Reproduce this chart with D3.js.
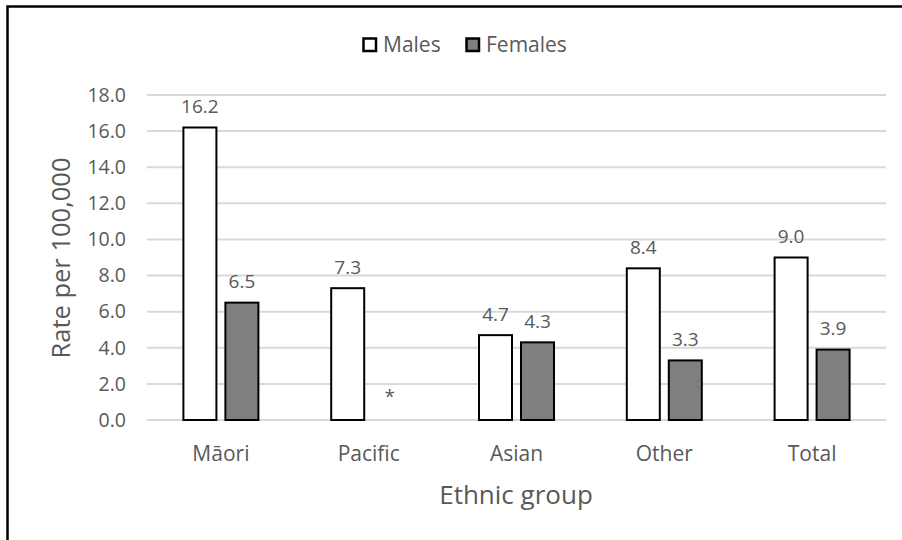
<!DOCTYPE html>
<html>
<head>
<meta charset="utf-8">
<script src="https://cdn.jsdelivr.net/npm/d3@7/dist/d3.min.js"></script>
<style>
  html, body { margin: 0; padding: 0; background: #fff; }
  svg { display: block; }
  text { font-family: "Open Sans", "Noto Sans", sans-serif; fill: #595959; }
</style>
</head>
<body>
<svg id="chart" width="902" height="540"></svg>
<script>
// Rates per 100,000 by ethnic group and sex
const categories = ["Māori", "Pacific", "Asian", "Other", "Total"];
const seriesNames = ["Males", "Females"];
const males = [16.2, 7.3, 4.7, 8.4, 9.0];
const females = [6.5, null, 4.3, 3.3, 3.9];   // Pacific females suppressed (*)
const yTicks = [0, 2, 4, 6, 8, 10, 12, 14, 16, 18];
const seriesFill = ["#ffffff", "#7f7f7f"];

const FONT = "'Open Sans', 'Noto Sans', sans-serif";
const svg = d3.select("#chart");
const W = 902, H = 540;

// outer frame (top and left edges)
svg.append("path")
  .attr("d", `M7.5,${H} L7.5,6.5 L${W},6.5`)
  .attr("fill", "none").attr("stroke", "#000").attr("stroke-width", 2.5);

const plot = { left: 147, right: 886, top: 95, bottom: 420 };

const y = d3.scaleLinear().domain([0, 18]).range([plot.bottom, plot.top]);
const x0 = d3.scaleBand().domain(categories).range([plot.left, plot.right]).padding(0);

// gridlines
svg.append("g").selectAll("line").data(yTicks).join("line")
  .attr("x1", plot.left).attr("x2", plot.right)
  .attr("y1", d => y(d)).attr("y2", d => y(d))
  .attr("stroke", "#d9d9d9").attr("stroke-width", 2);

// y axis labels
const yAxis = d3.axisLeft(y).tickValues(yTicks).tickFormat(d3.format(".1f")).tickSize(0).tickPadding(21);
const gy = svg.append("g").attr("transform", `translate(${plot.left},0)`).call(yAxis);
gy.select(".domain").remove();
gy.selectAll("text").attr("font-size", 19.5).attr("fill", "#595959").style("font-family", FONT);

// x axis labels
const xAxis = d3.axisBottom(x0).tickSize(0).tickPadding(26);
const gx = svg.append("g").attr("transform", `translate(0,${plot.bottom})`).call(xAxis);
gx.select(".domain").remove();
gx.selectAll("text").attr("font-size", 21).attr("fill", "#595959").style("font-family", FONT);

// bars
const groupHalf = 37.5;
const rows = categories.map((c, i) => ({ cat: c, vals: [males[i], females[i]] }));
const groups = svg.append("g").selectAll("g").data(rows).join("g");

groups.each(function (row) {
  const cx = x0(row.cat) + x0.bandwidth() / 2;
  const x1 = d3.scaleBand().domain(seriesNames)
    .range([cx - groupHalf, cx + groupHalf]).paddingInner(0.214).paddingOuter(0);
  const g = d3.select(this);
  const items = seriesNames.map((s, j) => ({ s, j, v: row.vals[j] }));

  g.selectAll("rect").data(items.filter(d => d.v != null)).join("rect")
    .attr("x", d => x1(d.s))
    .attr("y", d => y(d.v))
    .attr("width", x1.bandwidth())
    .attr("height", d => y(0) - y(d.v))
    .attr("fill", d => seriesFill[d.j])
    .attr("stroke", "#000").attr("stroke-width", 2);

  g.selectAll("text.val").data(items).join("text")
    .attr("class", "val")
    .attr("x", d => x1(d.s) + x1.bandwidth() / 2)
    .attr("y", d => y(d.v == null ? 0 : d.v) - (d.v == null ? 17 : 14.5))
    .attr("text-anchor", "middle")
    .attr("font-size", 19)
    .text(d => d.v == null ? "*" : d3.format(".1f")(d.v));
});

// axis titles
svg.append("text")
  .attr("transform", `translate(70,258) rotate(-90)`)
  .attr("text-anchor", "middle").attr("font-size", 25.5)
  .text("Rate per 100,000");

svg.append("text")
  .attr("x", 516).attr("y", 504)
  .attr("text-anchor", "middle").attr("font-size", 26)
  .text("Ethnic group");

// legend
const legend = svg.append("g").attr("transform", "translate(363,38)");
const legendX = [0, 103];
seriesNames.forEach((s, j) => {
  const lg = legend.append("g").attr("transform", `translate(${legendX[j]},0)`);
  lg.append("rect").attr("x", 0.5).attr("y", 0.5).attr("width", 12.5).attr("height", 12.5)
    .attr("fill", seriesFill[j]).attr("stroke", "#000").attr("stroke-width", 2.5);
  lg.append("text").attr("x", 20).attr("y", 14).attr("font-size", 21).text(s);
});
</script>
</body>
</html>
